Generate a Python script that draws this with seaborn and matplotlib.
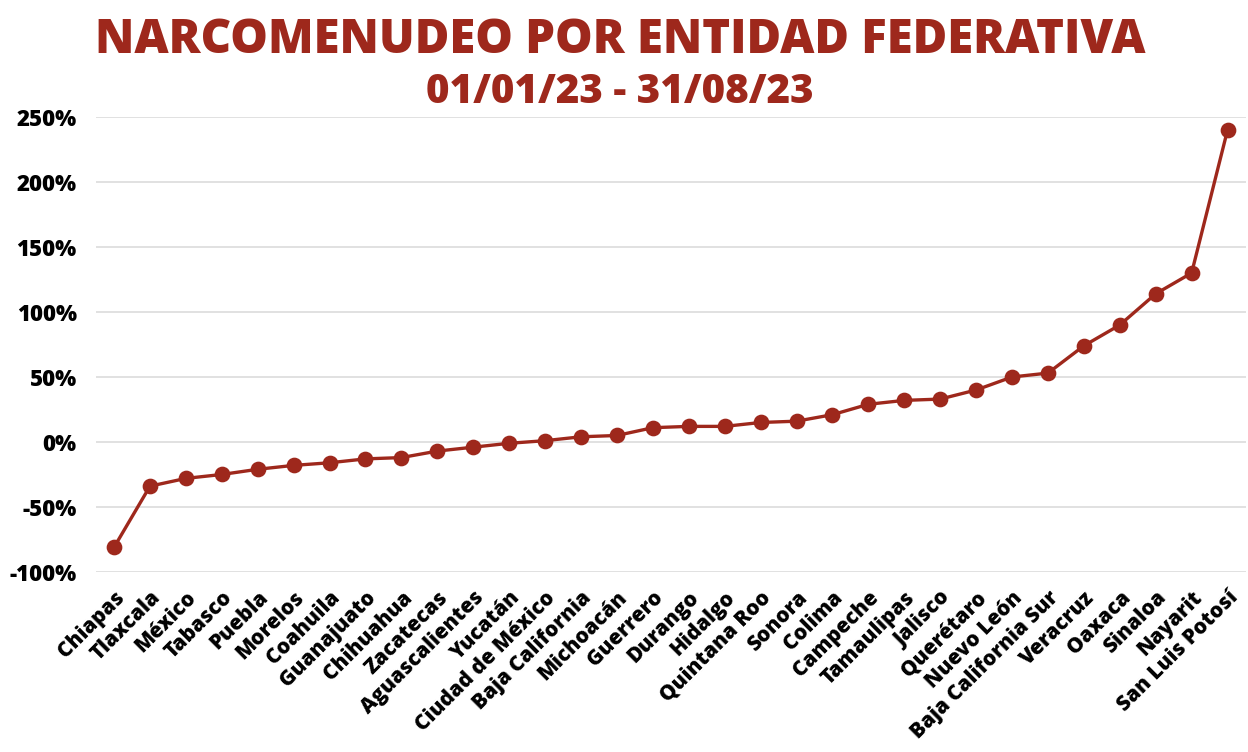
import matplotlib
matplotlib.use('Agg')
import matplotlib.pyplot as plt
import seaborn as sns
import pandas as pd
from matplotlib.ticker import FuncFormatter

# ============================================================
# DATA
# ============================================================

states = ['Chiapas', 'Tlaxcala', 'México', 'Tabasco', 'Puebla', 'Morelos',
          'Coahuila', 'Guanajuato', 'Chihuahua', 'Zacatecas', 'Aguascalientes',
          'Yucatán', 'Ciudad de México', 'Baja California', 'Michoacán',
          'Guerrero', 'Durango', 'Hidalgo', 'Quintana Roo', 'Sonora', 'Colima',
          'Campeche', 'Tamaulipas', 'Jalisco', 'Querétaro', 'Nuevo León',
          'Baja California Sur', 'Veracruz', 'Oaxaca', 'Sinaloa', 'Nayarit',
          'San Luis Potosí']
change_pct = [-81, -34, -28, -25, -21, -18, -16, -13, -12, -7, -4,
              -1, 1, 4, 5, 11, 12, 12, 15, 16, 21, 29, 32, 33, 40, 50,
              53, 74, 90, 114, 130, 240]
y_ticks = [-100, -50, 0, 50, 100, 150, 200, 250]

RED = '#9e281c'

df = pd.DataFrame({'Entidad': states, 'Cambio': change_pct})

# ============================================================
# PLOT
# ============================================================

sns.set_theme(style='white')
plt.rcParams['font.family'] = ['Open Sans', 'DejaVu Sans']

fig = plt.figure(figsize=(12.48, 7.52), dpi=100)
ax = fig.add_axes([0.077, 0.2394, 0.921, 0.605])

sns.pointplot(data=df, x='Entidad', y='Cambio', color=RED, ax=ax,
              markers='o', markersize=9.5, linewidth=2.4, errorbar=None)

ax.set_ylim(-100, 250)
ax.set_xlim(-0.5, len(states) - 0.5)
ax.set_yticks(y_ticks)
ax.yaxis.set_major_formatter(FuncFormatter(lambda v, p: f'{int(v)}%'))
ax.yaxis.grid(True, color='#d9d9d9', linewidth=1.1)
ax.set_axisbelow(True)
for s in ax.spines.values():
    s.set_visible(False)
ax.set_xlabel('')
ax.set_ylabel('')
ax.tick_params(axis='y', length=0, pad=14, labelsize=16)
ax.tick_params(axis='x', length=0, pad=11, labelsize=15)
for lbl in ax.get_yticklabels():
    lbl.set_fontweight('heavy')
    lbl.set_color('black')
ax.set_xticks(range(len(states)))
ax.set_xticklabels(states, rotation=45, ha='right', rotation_mode='anchor',
                   fontweight='heavy', color='black')

fig.text(0.497, 0.945, 'NARCOMENUDEO POR ENTIDAD FEDERATIVA', ha='center',
         va='center', fontsize=34, fontweight='heavy', color=RED)
fig.text(0.497, 0.877, '01/01/23 - 31/08/23', ha='center', va='center',
         fontsize=29, fontweight='heavy', color=RED)

plt.savefig('out.png', dpi=100)
plt.close()
